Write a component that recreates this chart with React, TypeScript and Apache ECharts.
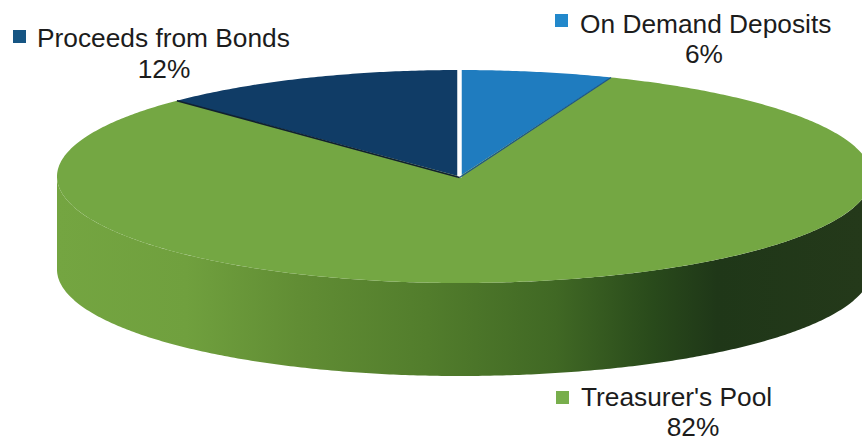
import React, { useEffect, useRef } from "react";
import * as echarts from "echarts";

// Clockwise from 12 o'clock
const categories = ["On Demand Deposits", "Treasurer's Pool", "Proceeds from Bonds"];
const shares = [6.0, 81.7, 12.4];
const faceColors = ["#1f7cbf", "#74a743", "#103c66"];
const legendColors = ["#2288cb", "#78ae4c", "#165583"];
const edgeColors = ["#ffffff", "#1c5488", "#10202f"];
const edgeWidths = [4.5, 1.2, 1.6];

const W = 862;
const H = 441;
const CX = 459.5;
const CY = 176.5;
const RX_LEFT = 402.5;
const RX_RIGHT = 412;
const RY = 106.5;
const DEPTH = 93;

const labelBoxes = [
  { square: [555, 14], text: [580, 24], pct: [704, 54] },
  { square: [556, 391], text: [581, 397], pct: [693, 427] },
  { square: [13, 30], text: [37, 38], pct: [164, 69] },
];

const total = shares.reduce((a, b) => a + b, 0);
const startOf = (i: number) =>
  (shares.slice(0, i).reduce((a, b) => a + b, 0) / total) * Math.PI * 2;

const rim = (t: number, dy = 0): number[] => {
  const s = Math.sin(t);
  return [CX + (s >= 0 ? RX_RIGHT : RX_LEFT) * s, CY - RY * Math.cos(t) + dy];
};

const arc = (a: number, b: number, dy = 0): number[][] => {
  const n = Math.max(2, Math.ceil((b - a) / 0.01));
  const pts: number[][] = [];
  for (let k = 0; k <= n; k++) pts.push(rim(a + ((b - a) * k) / n, dy));
  return pts;
};

const sideFill = () =>
  new echarts.graphic.LinearGradient(
    57,
    0,
    862,
    0,
    [
      { offset: 0, color: "#74a541" },
      { offset: 0.16, color: "#70a03e" },
      { offset: 0.3, color: "#618d34" },
      { offset: 0.46, color: "#527d2c" },
      { offset: 0.62, color: "#406824" },
      { offset: 0.74, color: "#294a1b" },
      { offset: 0.82, color: "#1f3718" },
      { offset: 1, color: "#24391a" },
    ],
    true as any
  );

function renderFace(params: any, api: any) {
  const i = params.dataIndex;
  const a = startOf(i);
  const b = a + ((api.value(0) as number) / total) * Math.PI * 2;
  const children: any[] = [];
  const sa = Math.max(a, Math.PI / 2);
  const sb = Math.min(b, (Math.PI * 3) / 2);
  if (sb > sa) {
    children.push({
      type: "polygon",
      shape: { points: [...arc(sa, sb), ...arc(sa, sb, DEPTH).reverse()] },
      style: { fill: sideFill() },
    });
  }
  children.push({
    type: "polygon",
    shape: { points: [[CX, CY], ...arc(a, b)] },
    style: { fill: faceColors[i] },
  });
  return { type: "group", children };
}

function renderEdge(params: any, api: any) {
  const i = params.dataIndex;
  const a = startOf(i);
  const end = rim(a);
  const box = labelBoxes[i];
  const font = "26.3px 'Liberation Sans', Arial, sans-serif";
  return {
    type: "group",
    children: [
      {
        type: "line",
        shape: { x1: CX, y1: CY + 1, x2: end[0], y2: end[1] },
        style: { stroke: edgeColors[i], lineWidth: edgeWidths[i] },
      },
      {
        type: "rect",
        shape: { x: box.square[0], y: box.square[1], width: 13, height: 13 },
        style: { fill: legendColors[i] },
      },
      {
        type: "text",
        style: {
          text: categories[i],
          x: box.text[0],
          y: box.text[1],
          font,
          fill: "#1c1c1c",
          align: "left",
          verticalAlign: "middle",
        },
      },
      {
        type: "text",
        style: {
          text: `${Math.round(api.value(0))}%`,
          x: box.pct[0],
          y: box.pct[1],
          font,
          fill: "#1c1c1c",
          align: "center",
          verticalAlign: "middle",
        },
      },
    ],
  };
}

export default function App() {
  const ref = useRef<HTMLDivElement>(null);
  useEffect(() => {
    const chart = echarts.init(ref.current!, undefined, { renderer: "svg" });
    const data = shares.map((v, i) => ({ name: categories[i], value: [v] }));
    chart.setOption({
      animation: false,
      backgroundColor: "#ffffff",
      series: [
        { type: "custom", coordinateSystem: "none", silent: true, renderItem: renderFace, data, z: 1 },
        { type: "custom", coordinateSystem: "none", silent: true, renderItem: renderEdge, data, z: 2 },
      ],
    });
    return () => chart.dispose();
  }, []);
  return (
    <div
      ref={ref}
      style={{ position: "fixed", left: 0, top: 0, width: W, height: H }}
    />
  );
}
